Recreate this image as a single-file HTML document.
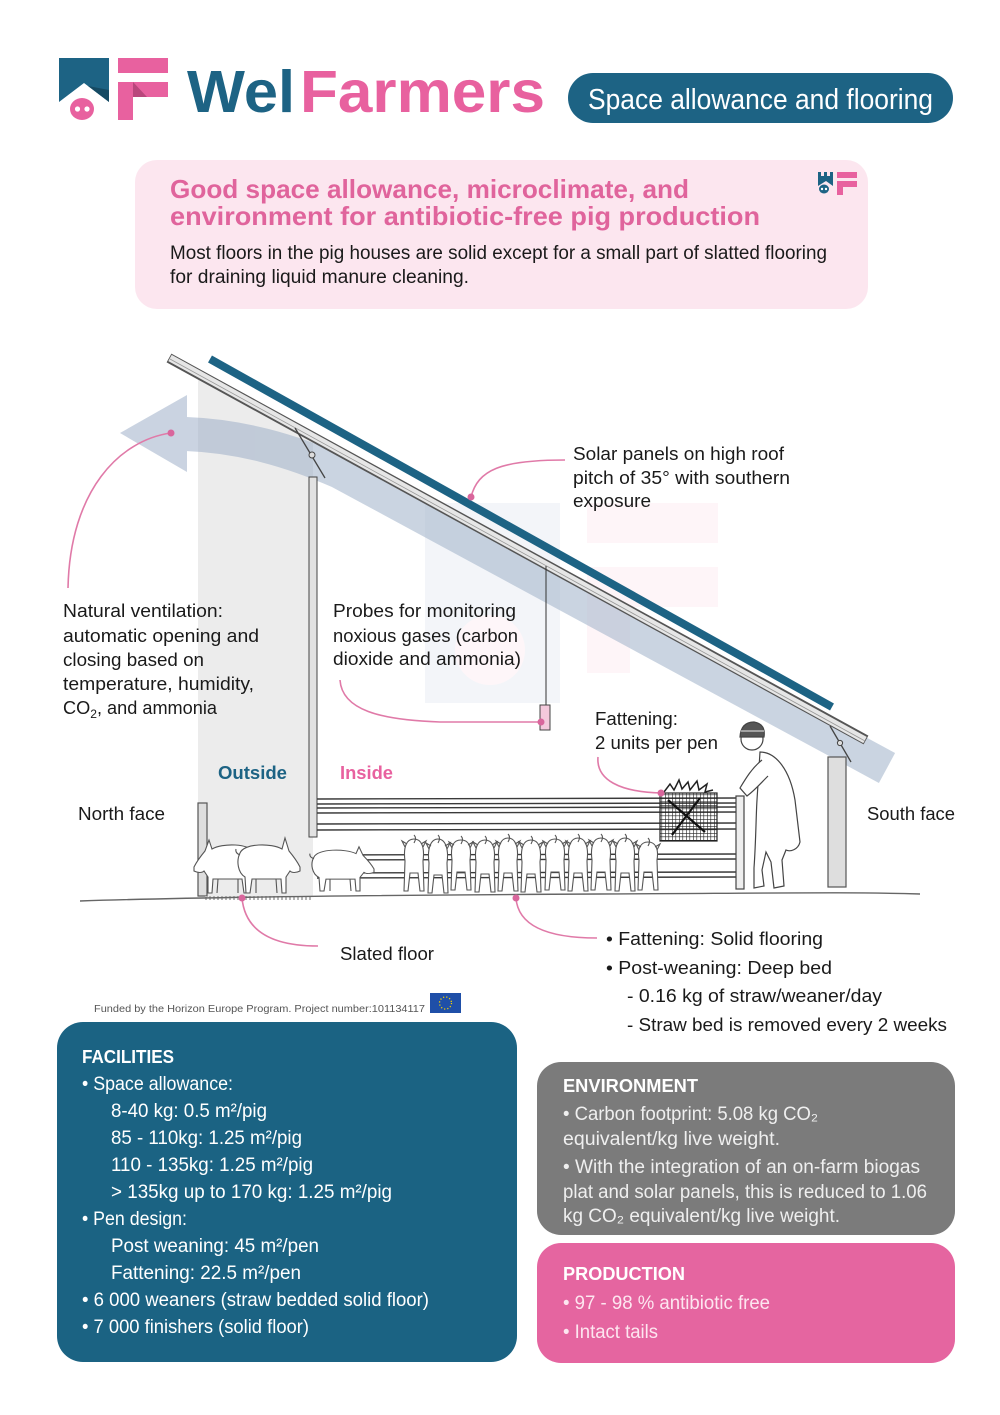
<!DOCTYPE html>
<html><head><meta charset="utf-8"><style>
html,body{margin:0;padding:0;background:#fff;}
svg{display:block;}
text{font-family:"Liberation Sans",Arial,sans-serif;}
</style></head><body>
<svg width="1000" height="1415" viewBox="0 0 1000 1415" xmlns="http://www.w3.org/2000/svg">
<defs>
<pattern id="hatch" width="3.5" height="3.5" patternUnits="userSpaceOnUse">
<path d="M0,0 L3.5,0 M0,0 L0,3.5" stroke="#222" stroke-width="1.2"/>
</pattern>
</defs>
<rect width="1000" height="1415" fill="#fff"/>

<!-- LOGO -->
<polygon points="59,58 109,58 109,102 84,83 59,102" fill="#1d6384"/>
<polygon points="88,86 109,102 109,90" fill="#154a63"/>
<ellipse cx="82" cy="109" rx="12" ry="11" fill="#e8619f"/>
<circle cx="77.5" cy="109" r="2.6" fill="#fff"/>
<circle cx="87" cy="109" r="2.6" fill="#fff"/>
<rect x="118" y="58" width="50" height="15" fill="#e8619f"/>
<rect x="118" y="82" width="50" height="15" fill="#e8619f"/>
<rect x="118" y="82" width="15" height="38" fill="#e8619f"/>
<polygon points="133,82 147,97 133,97" fill="#b9477c"/>
<text x="187" y="112" font-size="59" font-weight="bold" fill="#1d6384" textLength="108" lengthAdjust="spacingAndGlyphs">Wel</text>
<text x="300" y="112" font-size="59" font-weight="bold" fill="#e8619f" textLength="245" lengthAdjust="spacingAndGlyphs">Farmers</text>

<rect x="568" y="73" width="385" height="50" rx="25" fill="#1d6384"/>
<text x="588" y="109" font-size="29" fill="#fff" textLength="345" lengthAdjust="spacingAndGlyphs">Space allowance and flooring</text>

<!-- PINK TITLE BOX -->
<rect x="135" y="160" width="733" height="149" rx="22" fill="#fce6ef"/>
<text x="170" y="198" font-size="26" font-weight="bold" fill="#e0649c" textLength="519" lengthAdjust="spacingAndGlyphs">Good space allowance, microclimate, and</text>
<text x="170" y="225" font-size="26" font-weight="bold" fill="#e0649c" textLength="590" lengthAdjust="spacingAndGlyphs">environment for antibiotic-free pig production</text>
<text x="170" y="259" font-size="19" fill="#1a1a1a" textLength="657" lengthAdjust="spacingAndGlyphs">Most floors in the pig houses are solid except for a small part of slatted flooring</text>
<text x="170" y="283" font-size="19" fill="#1a1a1a" textLength="299" lengthAdjust="spacingAndGlyphs">for draining liquid manure cleaning.</text>
<!-- small icon -->
<g>
<polygon points="818,172 821,172 821,176 824,176 824,172 827,172 827,176 830,176 830,172 833,172 833,186 826,181 818,186" fill="#1d6384"/>
<ellipse cx="824" cy="189" rx="5" ry="4.5" fill="#1d6384"/>
<circle cx="822" cy="189" r="1.2" fill="#fff"/><circle cx="826" cy="189" r="1.2" fill="#fff"/>
<rect x="837" y="172" width="20" height="6" fill="#e8619f"/>
<rect x="837" y="181" width="20" height="6" fill="#e8619f"/>
<rect x="837" y="181" width="6" height="14" fill="#e8619f"/>
</g>

<!-- WATERMARK (very faint) -->
<rect x="425" y="503" width="135" height="200" fill="#f3f5f9"/>
<circle cx="490" cy="650" r="35" fill="#fef6f9"/>
<rect x="587" y="503" width="131" height="40" fill="#fef5f8"/>
<rect x="630" y="567" width="88" height="40" fill="#fef5f8"/>
<rect x="587" y="567" width="43" height="106" fill="#fef5f8"/>

<!-- outside gray area -->
<polygon points="198,376 313,441 313,897 198,897" fill="#ececec"/>

<!-- airflow arrow -->
<g opacity="0.55">
<path d="M186,434 C240,436 290,450 340,472 L887,768" stroke="#9fb0c9" stroke-width="34" fill="none"/>
<polygon points="120,433 187,395 187,472" fill="#9fb0c9"/>
</g>

<!-- roof beam -->
<line x1="169" y1="358" x2="866" y2="740" stroke="#555" stroke-width="10"/>
<line x1="170" y1="358" x2="865" y2="740" stroke="#e6e6e6" stroke-width="7"/>
<line x1="170" y1="359" x2="865" y2="741" stroke="#999" stroke-width="0.8"/>
<!-- solar panel -->
<line x1="210" y1="359" x2="832" y2="707" stroke="#1d6384" stroke-width="8"/>

<!-- wall -->
<rect x="309" y="477" width="8" height="360" fill="#e2e2e2" stroke="#444" stroke-width="1"/>
<line x1="295" y1="428" x2="325" y2="478" stroke="#444" stroke-width="1.3"/>
<circle cx="312" cy="455" r="3" fill="#ddd" stroke="#444" stroke-width="1"/>
<!-- probe -->
<line x1="546" y1="566" x2="546" y2="706" stroke="#333" stroke-width="1"/>
<rect x="540" y="705" width="10" height="25" fill="#f4c9dc" stroke="#444" stroke-width="1"/>

<!-- south post and hinge -->
<rect x="828" y="757" width="18" height="130" fill="#dedede" stroke="#555" stroke-width="1.2"/>
<line x1="830" y1="726" x2="851" y2="762" stroke="#444" stroke-width="1.3"/>
<circle cx="840" cy="743" r="2.6" fill="#ddd" stroke="#444" stroke-width="1"/>
<!-- north post -->
<rect x="198" y="803" width="9" height="93" fill="#dedede" stroke="#555" stroke-width="1.2"/>

<!-- fence -->
<g stroke="#3a3a3a" stroke-width="1.4" fill="none">
<path d="M317,799 L740,798 M317,804 L740,803"/>
<path d="M317,808 L740,807 M317,813 L740,812"/>
<path d="M317,824 L740,823 M317,830 L740,829"/>
<path d="M317,855 L740,854 M317,860 L740,859"/>
<path d="M317,873 L740,872 M317,878 L740,877"/>
</g>
<rect x="736" y="796" width="8" height="93" fill="#eee" stroke="#444" stroke-width="1.2"/>

<!-- hay rack -->
<path d="M664,792 l6,-8 l4,6 l5,-10 l3,9 l6,-7 l2,8 l7,-9 l2,9 l8,-6 l-2,8 l8,-2" stroke="#222" stroke-width="1.5" fill="none"/>
<rect x="660" y="793" width="57" height="48" fill="url(#hatch)" stroke="#222" stroke-width="1.2"/>
<path d="M668,800 L705,832 M700,798 L672,835" stroke="#111" stroke-width="2.2"/>

<!-- slatted floor -->
<line x1="205" y1="898" x2="311" y2="898" stroke="#b5b5b5" stroke-width="4" stroke-dasharray="2,2"/>

<!-- PIGS left group -->
<g fill="#fff" stroke="#555" stroke-width="1.1">
<g transform="translate(262,893) scale(-1,1)">
<path d="M8,-40 C12,-50 40,-50 50,-44 L53,-53 L57,-42 C62,-36 66,-30 68,-26 L68,-22 C64,-20 60,-20 58,-22 L54,-16 L54,0 L50,0 L49,-14 L20,-14 L18,0 L14,0 L13,-16 C6,-20 4,-32 8,-40 Z"/>
<path d="M44,-14 L45,0 M24,-14 L24,0 M8,-38 q-5,-2 -4,-6" fill="none"/>
</g>
<g transform="translate(232,893)">
<path d="M8,-40 C12,-50 40,-50 50,-44 L53,-55 L57,-42 C62,-36 66,-30 68,-26 L68,-22 C64,-20 60,-20 58,-22 L54,-16 L54,0 L50,0 L49,-14 L20,-14 L18,0 L14,0 L13,-16 C6,-20 4,-32 8,-40 Z"/>
<path d="M44,-14 L45,0 M24,-14 L24,0 M8,-38 q-5,-2 -4,-6" fill="none"/>
</g>
<g transform="translate(306,891) scale(1,0.85)">
<path d="M8,-40 C12,-50 40,-50 50,-44 L53,-52 L57,-42 C62,-36 66,-30 68,-26 L68,-22 C64,-20 60,-20 58,-22 L54,-16 L54,0 L50,0 L49,-14 L20,-14 L18,0 L14,0 L13,-16 C6,-20 4,-32 8,-40 Z"/>
<path d="M44,-14 L45,0 M24,-14 L24,0 M8,-38 q-5,-2 -4,-6" fill="none"/>
</g>
</g>

<!-- PIGS rear row -->
<g fill="#fff" stroke="#555" stroke-width="1.1">
<g transform="translate(403,891)"><path d="M1,0 L2,-30 C0,-45 4,-52 11,-52 C18,-52 22,-45 20,-30 L21,0 L17,0 L15,-18 L7,-18 L5,0 Z"/><path d="M11,-48 q3,-5 0,-8 M2,-44 l-3,-6 l5,3 M20,-44 l3,-6 l-5,3" fill="none"/></g>
<g transform="translate(427,893)"><path d="M1,0 L2,-30 C0,-45 4,-54 11,-54 C18,-54 22,-45 20,-30 L21,0 L17,0 L15,-18 L7,-18 L5,0 Z"/><path d="M11,-50 q3,-5 0,-8 M2,-44 l-3,-6 l5,3 M20,-44 l3,-6 l-5,3" fill="none"/></g>
<g transform="translate(450,890)"><path d="M1,0 L2,-30 C0,-45 4,-50 11,-50 C18,-50 22,-45 20,-30 L21,0 L17,0 L15,-18 L7,-18 L5,0 Z"/><path d="M11,-46 q3,-5 0,-8 M2,-42 l-3,-6 l5,3 M20,-42 l3,-6 l-5,3" fill="none"/></g>
<g transform="translate(474,892)"><path d="M1,0 L2,-30 C0,-45 4,-52 11,-52 C18,-52 22,-45 20,-30 L21,0 L17,0 L15,-18 L7,-18 L5,0 Z"/><path d="M11,-48 q3,-5 0,-8 M2,-44 l-3,-6 l5,3 M20,-44 l3,-6 l-5,3" fill="none"/></g>
<g transform="translate(497,891)"><path d="M1,0 L2,-30 C0,-45 4,-53 11,-53 C18,-53 22,-45 20,-30 L21,0 L17,0 L15,-18 L7,-18 L5,0 Z"/><path d="M11,-49 q3,-5 0,-8 M2,-44 l-3,-6 l5,3 M20,-44 l3,-6 l-5,3" fill="none"/></g>
<g transform="translate(520,892)"><path d="M1,0 L2,-30 C0,-45 4,-52 11,-52 C18,-52 22,-45 20,-30 L21,0 L17,0 L15,-18 L7,-18 L5,0 Z"/><path d="M11,-48 q3,-5 0,-8 M2,-44 l-3,-6 l5,3 M20,-44 l3,-6 l-5,3" fill="none"/></g>
<g transform="translate(544,890)"><path d="M1,0 L2,-30 C0,-45 4,-51 11,-51 C18,-51 22,-45 20,-30 L21,0 L17,0 L15,-18 L7,-18 L5,0 Z"/><path d="M11,-47 q3,-5 0,-8 M2,-43 l-3,-6 l5,3 M20,-43 l3,-6 l-5,3" fill="none"/></g>
<g transform="translate(567,891)"><path d="M1,0 L2,-30 C0,-45 4,-53 11,-53 C18,-53 22,-45 20,-30 L21,0 L17,0 L15,-18 L7,-18 L5,0 Z"/><path d="M11,-49 q3,-5 0,-8 M2,-44 l-3,-6 l5,3 M20,-44 l3,-6 l-5,3" fill="none"/></g>
<g transform="translate(590,890)"><path d="M1,0 L2,-30 C0,-45 4,-52 11,-52 C18,-52 22,-45 20,-30 L21,0 L17,0 L15,-18 L7,-18 L5,0 Z"/><path d="M11,-48 q3,-5 0,-8 M2,-44 l-3,-6 l5,3 M20,-44 l3,-6 l-5,3" fill="none"/></g>
<g transform="translate(614,891)"><path d="M1,0 L2,-30 C0,-45 4,-53 11,-53 C18,-53 22,-45 20,-30 L21,0 L17,0 L15,-18 L7,-18 L5,0 Z"/><path d="M11,-49 q3,-5 0,-8 M2,-44 l-3,-6 l5,3 M20,-44 l3,-6 l-5,3" fill="none"/></g>
<g transform="translate(637,890)"><path d="M1,0 L2,-30 C0,-42 4,-48 11,-48 C18,-48 22,-42 20,-30 L21,0 L17,0 L15,-18 L7,-18 L5,0 Z"/><path d="M11,-44 q3,-5 0,-8 M2,-40 l-3,-6 l5,3 M20,-40 l3,-6 l-5,3" fill="none"/></g>
</g>

<!-- PERSON -->
<g fill="#fff" stroke="#444" stroke-width="1.2">
<path d="M760,752 C776,752 790,770 795,800 L800,842 C798,850 790,852 786,850 L782,860 L784,886 L774,888 L771,862 L766,852 L762,870 L764,886 L754,888 L754,868 C756,840 756,815 757,800 Z"/>
<path d="M762,760 C752,768 746,778 740,788 L747,796 C755,790 760,784 768,776"/>
<circle cx="752" cy="739" r="11"/>
<path d="M740,737 Q741,722 754,722 Q766,724 764,737 Z" fill="#555"/>
<path d="M741,731 L764,731" stroke="#eee" stroke-width="1"/>
</g>

<!-- ground -->
<path d="M80,901 C200,897 400,895 600,894 S850,892 920,894" stroke="#666" stroke-width="1.4" fill="none"/>

<!-- PINK CONNECTORS -->
<g stroke="#e07aa8" stroke-width="1.6" fill="none">
<path d="M171,433 C120,440 70,490 68,588"/>
<path d="M471,497 C478,470 500,460 565,460"/>
<path d="M340,680 C342,710 380,720 440,722 L541,722"/>
<path d="M598,757 C596,780 620,792 661,793"/>
<path d="M242,898 C245,930 270,946 318,946"/>
<path d="M516,898 C518,925 545,938 597,938"/>
</g>
<g fill="#d9669c">
<circle cx="171" cy="433" r="3.5"/>
<circle cx="471" cy="497" r="3.5"/>
<circle cx="541" cy="722" r="3.5"/>
<circle cx="661" cy="793" r="3.5"/>
<circle cx="242" cy="898" r="3.5"/>
<circle cx="516" cy="898" r="3.5"/>
</g>

<!-- DIAGRAM LABELS -->
<g font-size="18" fill="#1a1a1a">
<text x="573" y="460" textLength="211" lengthAdjust="spacingAndGlyphs">Solar panels on high roof</text>
<text x="573" y="484" textLength="217" lengthAdjust="spacingAndGlyphs">pitch of 35° with southern</text>
<text x="573" y="507" textLength="78" lengthAdjust="spacingAndGlyphs">exposure</text>

<text x="63" y="617" textLength="160" lengthAdjust="spacingAndGlyphs">Natural ventilation:</text>
<text x="63" y="642" textLength="196" lengthAdjust="spacingAndGlyphs">automatic opening and</text>
<text x="63" y="666" textLength="141" lengthAdjust="spacingAndGlyphs">closing based on</text>
<text x="63" y="690" textLength="191" lengthAdjust="spacingAndGlyphs">temperature, humidity,</text>
<text x="63" y="714" textLength="154" lengthAdjust="spacingAndGlyphs">CO<tspan font-size="12" dy="4">2</tspan><tspan dy="-4">, and ammonia</tspan></text>

<text x="333" y="617" textLength="183" lengthAdjust="spacingAndGlyphs">Probes for monitoring</text>
<text x="333" y="642" textLength="185" lengthAdjust="spacingAndGlyphs">noxious gases (carbon</text>
<text x="333" y="665" textLength="188" lengthAdjust="spacingAndGlyphs">dioxide and ammonia)</text>

<text x="595" y="725" textLength="83" lengthAdjust="spacingAndGlyphs">Fattening:</text>
<text x="595" y="749" textLength="123" lengthAdjust="spacingAndGlyphs">2 units per pen</text>

<text x="78" y="820" textLength="87" lengthAdjust="spacingAndGlyphs">North face</text>
<text x="867" y="820" textLength="88" lengthAdjust="spacingAndGlyphs">South face</text>

<text x="340" y="960" textLength="94" lengthAdjust="spacingAndGlyphs">Slated floor</text>

<text x="606" y="945" textLength="217" lengthAdjust="spacingAndGlyphs">• Fattening: Solid flooring</text>
<text x="606" y="974" textLength="226" lengthAdjust="spacingAndGlyphs">• Post-weaning: Deep bed</text>
<text x="627" y="1002" textLength="255" lengthAdjust="spacingAndGlyphs">- 0.16 kg of straw/weaner/day</text>
<text x="627" y="1031" textLength="320" lengthAdjust="spacingAndGlyphs">- Straw bed is removed every 2 weeks</text>
</g>
<text x="218" y="779" font-size="18" font-weight="bold" fill="#1d6384" textLength="69" lengthAdjust="spacingAndGlyphs">Outside</text>
<text x="340" y="779" font-size="18" font-weight="bold" fill="#e8619f" textLength="53" lengthAdjust="spacingAndGlyphs">Inside</text>

<!-- funded -->
<text x="94" y="1012" font-size="10.5" fill="#555" textLength="331" lengthAdjust="spacingAndGlyphs">Funded by the Horizon Europe Program. Project number:101134117</text>
<rect x="430" y="993" width="31" height="20" fill="#1f4fa8"/>
<circle cx="445.5" cy="1003" r="6" fill="none" stroke="#f5d000" stroke-width="1.3" stroke-dasharray="1.2,2"/>

<!-- FACILITIES BOX -->
<rect x="57" y="1022" width="460" height="340" rx="26" fill="#1b6383"/>
<g fill="#fff" font-size="19">
<text x="82" y="1063" font-weight="bold" font-size="18" textLength="92" lengthAdjust="spacingAndGlyphs">FACILITIES</text>
<text x="82" y="1090" textLength="151" lengthAdjust="spacingAndGlyphs">• Space allowance:</text>
<text x="111" y="1117" textLength="156" lengthAdjust="spacingAndGlyphs">8-40 kg: 0.5 m²/pig</text>
<text x="111" y="1144" textLength="191" lengthAdjust="spacingAndGlyphs">85 - 110kg: 1.25 m²/pig</text>
<text x="111" y="1171" textLength="202" lengthAdjust="spacingAndGlyphs">110 - 135kg: 1.25 m²/pig</text>
<text x="111" y="1198" textLength="281" lengthAdjust="spacingAndGlyphs">&gt; 135kg up to 170 kg: 1.25 m²/pig</text>
<text x="82" y="1225" textLength="105" lengthAdjust="spacingAndGlyphs">• Pen design:</text>
<text x="111" y="1252" textLength="208" lengthAdjust="spacingAndGlyphs">Post weaning: 45 m²/pen</text>
<text x="111" y="1279" textLength="190" lengthAdjust="spacingAndGlyphs">Fattening: 22.5 m²/pen</text>
<text x="82" y="1306" textLength="347" lengthAdjust="spacingAndGlyphs">• 6 000 weaners (straw bedded solid floor)</text>
<text x="82" y="1333" textLength="227" lengthAdjust="spacingAndGlyphs">• 7 000 finishers (solid floor)</text>
</g>

<!-- ENVIRONMENT BOX -->
<rect x="537" y="1062" width="418" height="173" rx="24" fill="#7b7b7b"/>
<g fill="#efefef" font-size="19">
<text x="563" y="1092" font-weight="bold" font-size="18" fill="#fff" textLength="135" lengthAdjust="spacingAndGlyphs">ENVIRONMENT</text>
<text x="563" y="1120" textLength="255" lengthAdjust="spacingAndGlyphs">• Carbon footprint: 5.08 kg CO₂</text>
<text x="563" y="1145" textLength="217" lengthAdjust="spacingAndGlyphs">equivalent/kg live weight.</text>
<text x="563" y="1173" textLength="357" lengthAdjust="spacingAndGlyphs">• With the integration of an on-farm biogas</text>
<text x="563" y="1198" textLength="364" lengthAdjust="spacingAndGlyphs">plat and solar panels, this is reduced to 1.06</text>
<text x="563" y="1222" textLength="277" lengthAdjust="spacingAndGlyphs">kg CO₂ equivalent/kg live weight.</text>
</g>

<!-- PRODUCTION BOX -->
<rect x="537" y="1243" width="418" height="120" rx="24" fill="#e565a0"/>
<g fill="#fde6f0" font-size="19">
<text x="563" y="1280" font-weight="bold" font-size="18" fill="#fff" textLength="122" lengthAdjust="spacingAndGlyphs">PRODUCTION</text>
<text x="563" y="1309" textLength="207" lengthAdjust="spacingAndGlyphs">• 97 - 98 % antibiotic free</text>
<text x="563" y="1338" textLength="95" lengthAdjust="spacingAndGlyphs">• Intact tails</text>
</g>
</svg>
</body></html>
